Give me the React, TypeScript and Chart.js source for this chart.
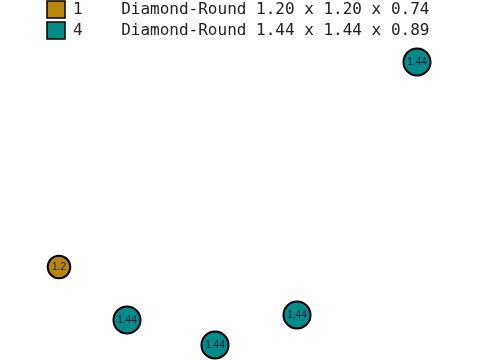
import React, { useEffect, useRef } from "react";
import { Chart, registerables } from "chart.js";

Chart.register(...registerables);

const seriesNames = ["1", "4"];
const seriesDescriptions = ["Diamond-Round 1.20 x 1.20 x 0.74", "Diamond-Round 1.44 x 1.44 x 0.89"];
const seriesColors = ["#B8860B", "#008B8B"];
const series1X = [59];
const series1Y = [93];
const series1Size = [1.2];
const series4X = [127, 215, 297, 417];
const series4Y = [40, 15, 45, 298];
const series4Size = [1.44, 1.44, 1.44, 1.44];

const sizeLabel = (v: number) => String(v);

export default function App() {
  const ref = useRef<HTMLCanvasElement | null>(null);
  useEffect(() => {
    document.body.style.margin = "0";
    const ctx = ref.current!;
    const mk = (xs: number[], ys: number[], ss: number[]) =>
      xs.map((x, i) => ({ x, y: ys[i], r: ss[i] * 9.4, s: ss[i] }));
    const labelPlugin = {
      id: "labels",
      afterDatasetsDraw(chart: any) {
        const c = chart.ctx;
        c.save();
        c.font = "10px Arial, 'Liberation Sans', sans-serif";
        c.fillStyle = "#1a1a3a";
        c.textAlign = "center";
        c.textBaseline = "middle";
        chart.data.datasets.forEach((ds: any, di: number) => {
          const meta = chart.getDatasetMeta(di);
          meta.data.forEach((el: any, i: number) => {
            c.fillText(sizeLabel(ds.data[i].s), el.x, el.y + 0.5);
          });
        });
        c.restore();
      },
      afterDraw(chart: any) {
        const c = chart.ctx;
        c.save();
        c.font = "16px 'DejaVu Sans Mono', monospace";
        c.textBaseline = "middle";
        c.textAlign = "left";
        seriesNames.forEach((n, i) => {
          const top = 1 + i * 21;
          c.fillStyle = seriesColors[i];
          c.fillRect(47, top, 18, 17);
          c.strokeStyle = "#000";
          c.lineWidth = 1.5;
          c.strokeRect(47, top, 18, 17);
          c.fillStyle = "#222";
          c.fillText(n.padEnd(5, " ") + seriesDescriptions[i], 73, top + 8.5);
        });
        c.restore();
      },
    };
    const chart = new Chart(ctx, {
      type: "bubble",
      data: {
        datasets: [
          {
            label: seriesNames[0],
            data: mk(series1X, series1Y, series1Size),
            backgroundColor: seriesColors[0],
            borderColor: "#000",
            borderWidth: 2,
          },
          {
            label: seriesNames[1],
            data: mk(series4X, series4Y, series4Size),
            backgroundColor: seriesColors[1],
            borderColor: "#000",
            borderWidth: 2,
          },
        ],
      },
      options: {
        animation: false,
        responsive: false,
        layout: { padding: 0, autoPadding: false },
        plugins: { legend: { display: false }, tooltip: { enabled: false } },
        scales: {
          x: { display: false, min: 0, max: 480 },
          y: { display: false, min: 0, max: 360 },
        },
      },
      plugins: [labelPlugin],
    });
    return () => chart.destroy();
  }, []);
  return (
    <div style={{ position: "fixed", left: 0, top: 0, width: 480, height: 360 }}>
      <canvas ref={ref} width={480} height={360} style={{ width: 480, height: 360 }} />
    </div>
  );
}
